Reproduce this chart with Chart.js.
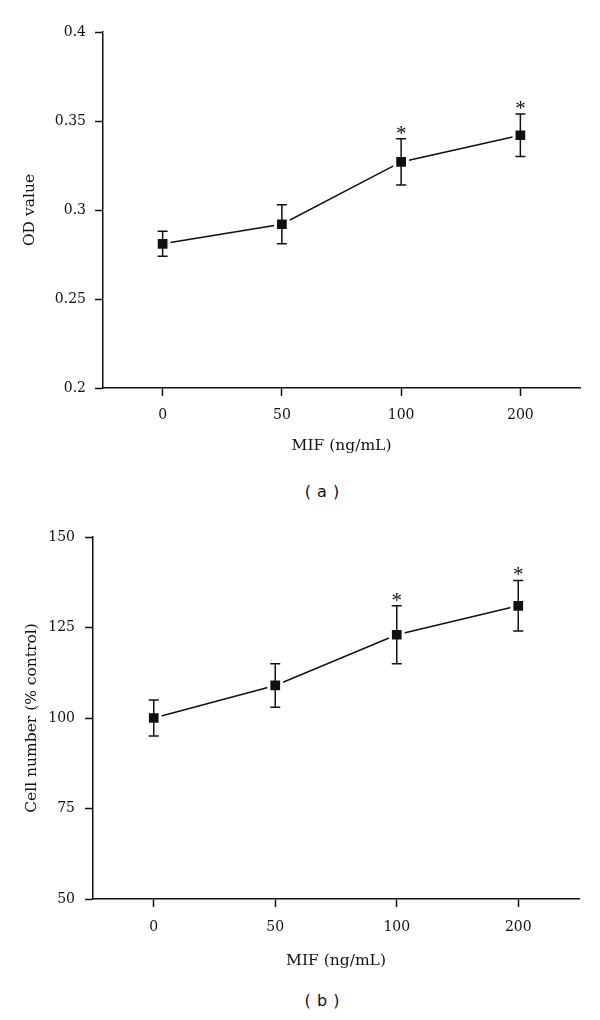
<!DOCTYPE html>
<html lang="en">
<head>
  <meta charset="UTF-8">
  <title>MIF dose response</title>
  <script src="https://cdn.jsdelivr.net/npm/chart.js"></script>
  <style>
    body {
      margin: 0;
      background: #fff;
    }
    #wrap {
      position: relative;
      width: 600px;
      height: 1020px;
    }
    canvas {
      position: absolute;
      left: 0;
    }
    .panel {
      position: absolute;
      left: 272px;
      width: 100px;
      text-align: center;
      font-family: "DejaVu Sans", sans-serif;
      font-size: 16px;
      line-height: 18px;
      word-spacing: 1px;
      color: #111;
    }
  </style>
</head>
<body>
<div id="wrap">
  <canvas id="chartA" width="600" height="470" style="top:0"></canvas>
  <div class="panel" style="top:483px">( a )</div>
  <canvas id="chartB" width="600" height="470" style="top:505px"></canvas>
  <div class="panel" style="top:992px">( b )</div>
</div>

<script>
// x categories (MIF, ng/mL)
const doses = ['0', '50', '100', '200'];

// (a) OD value
const odMean = [0.281, 0.292, 0.327, 0.342];
const odErr = [0.007, 0.011, 0.013, 0.012];
const odSig = [false, false, true, true];
const odTicks = ['0.2', '0.25', '0.3', '0.35', '0.4'];

// (b) cell number, % of control
const cellMean = [100, 109, 123, 131];
const cellErr = [5, 6, 8, 7];
const cellSig = [false, false, true, true];
const cellTicks = ['50', '75', '100', '125', '150'];

const INK = '#111';
Chart.defaults.font.family = '"DejaVu Serif", serif';
Chart.defaults.color = INK;

// draws the error bars and the * marks on top of the line
const errorBarPlugin = {
  id: 'errorBars',
  afterDatasetsDraw(chart) {
    const ctx = chart.ctx;
    const y = chart.scales.y;
    chart.data.datasets.forEach((ds, di) => {
      const meta = chart.getDatasetMeta(di);
      ctx.save();
      ctx.strokeStyle = INK;
      ctx.lineWidth = 1.5;
      meta.data.forEach((pt, i) => {
        const top = y.getPixelForValue(ds.data[i] + ds.errors[i]);
        const bot = y.getPixelForValue(ds.data[i] - ds.errors[i]);
        ctx.beginPath();
        ctx.moveTo(pt.x, top); ctx.lineTo(pt.x, bot);
        ctx.moveTo(pt.x - 5, top); ctx.lineTo(pt.x + 5, top);
        ctx.moveTo(pt.x - 5, bot); ctx.lineTo(pt.x + 5, bot);
        ctx.stroke();
        if (ds.sig[i]) {
          ctx.fillStyle = INK;
          ctx.font = '21px "Liberation Serif", serif';
          ctx.textAlign = 'center';
          ctx.textBaseline = 'alphabetic';
          ctx.fillText('*', pt.x, top + 1);
        }
      });
      ctx.restore();
    });
  }
};

function makeChart(id, means, errs, sig, ticks, yTitle, box) {
  const yMin = parseFloat(ticks[0]);
  const yMax = parseFloat(ticks[ticks.length - 1]);
  const step = (yMax - yMin) / (ticks.length - 1);

  return new Chart(document.getElementById(id), {
    type: 'line',
    data: {
      labels: doses,
      datasets: [{
        data: means,
        errors: errs,
        sig: sig,
        borderColor: INK,
        borderWidth: 1.5,
        pointStyle: 'rect',
        pointRadius: 9,
        pointBackgroundColor: INK,
        pointBorderColor: '#fff',
        pointBorderWidth: 3,
        tension: 0
      }]
    },
    options: {
      responsive: false,
      animation: false,
      events: [],
      layout: { padding: { top: box.top, right: box.right, left: 0, bottom: 0 } },
      plugins: { legend: { display: false }, tooltip: { enabled: false } },
      scales: {
        x: {
          type: 'category',
          offset: true,
          afterFit: s => { s.height = box.xHeight; },
          grid: { offset: false, drawOnChartArea: false, tickLength: 8, tickWidth: 1.5, tickColor: INK },
          border: { color: INK, width: 1.5 },
          ticks: { padding: box.xPad, font: { size: 14 }, color: INK },
          title: { display: true, text: 'MIF (ng/mL)', font: { size: 15.5 }, color: INK,
                   padding: { top: 0, bottom: box.xTitlePad } }
        },
        y: {
          min: yMin,
          max: yMax,
          afterFit: s => { s.width = box.left; },
          afterBuildTicks: s => {
            s.ticks = ticks.map(t => ({ value: parseFloat(t) }));
          },
          grid: { drawOnChartArea: false, tickLength: 8, tickWidth: 1.5, tickColor: INK },
          border: { color: INK, width: 1.5 },
          ticks: {
            stepSize: step,
            padding: box.yPad,
            font: { size: 14 },
            color: INK,
            callback: (v, i) => ticks[i]
          },
          title: { display: true, text: yTitle, font: { size: 15.5 }, color: INK,
                   padding: { top: box.yTitlePad, bottom: 0 } }
        }
      }
    },
    plugins: [errorBarPlugin]
  });
}

makeChart('chartA', odMean, odErr, odSig, odTicks, 'OD value',
  { top: 32, right: 20, left: 103, xHeight: 82, xPad: 10.5, xTitlePad: 14.5, yPad: 9, yTitlePad: 20.5 });

makeChart('chartB', cellMean, cellErr, cellSig, cellTicks, 'Cell number (% control)',
  { top: 32, right: 21, left: 93, xHeight: 76, xPad: 11.5, xTitlePad: 4.5, yPad: 10, yTitlePad: 22.5 });
</script>
</body>
</html>
